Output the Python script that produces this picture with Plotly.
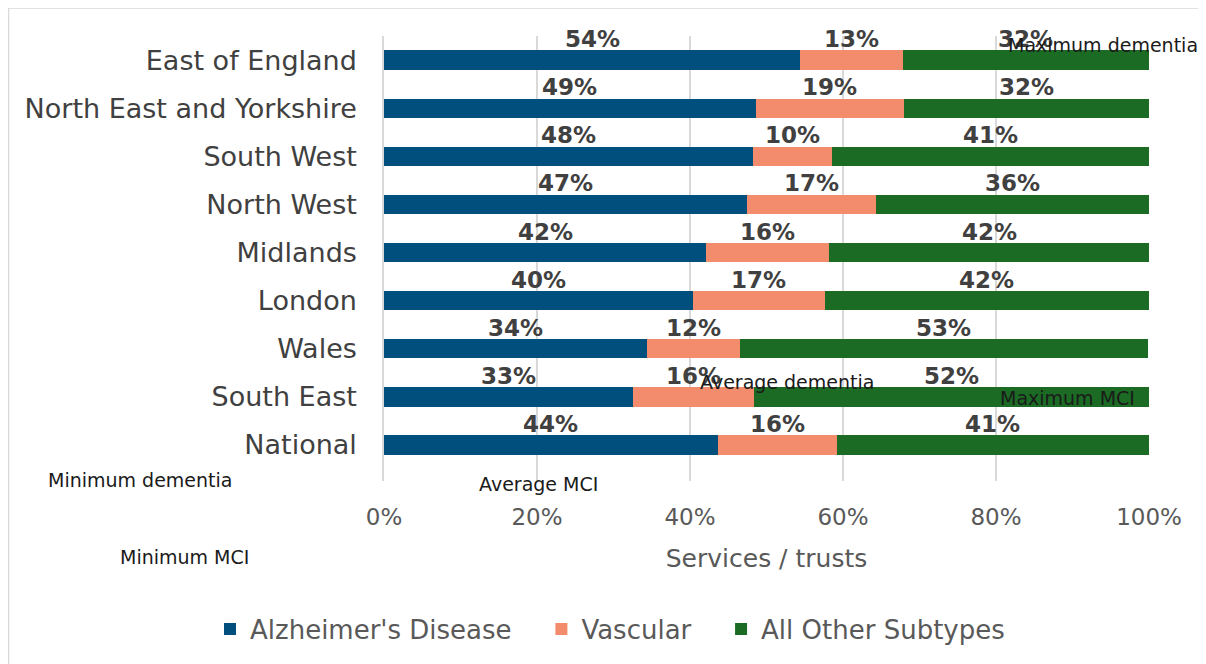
import plotly.graph_objects as go

regions = ["East of England", "North East and Yorkshire", "South West", "North West",
           "Midlands", "London", "Wales", "South East", "National"]
alzheimers = [54.4, 48.6, 48.2, 47.4, 42.1, 40.4, 34.4, 32.6, 43.6]
vascular = [13.4, 19.4, 10.4, 16.9, 16.1, 17.2, 12.1, 15.7, 15.6]
other = [32.2, 32.0, 41.4, 35.7, 41.8, 42.4, 53.4, 51.7, 40.8]
series_names = ["Alzheimer's Disease", "Vascular", "All Other Subtypes"]
colors = ["#004f7c", "#f28c6c", "#1b6b24"]
x_ticks = [0, 0.2, 0.4, 0.6, 0.8, 1.0]

# free-floating label texts (name, page pixel x, page pixel y)
float_labels = [("Maximum dementia", 1103, 45), ("Average dementia", 787, 382),
                ("Maximum MCI", 1067, 398), ("Minimum dementia", 140, 480),
                ("Average MCI", 538, 484), ("Minimum MCI", 184, 557)]

FONT = "DejaVu Sans"
OFF = 8  # page body margin
W, H = 1206 - OFF, 664 - OFF
# plot area in page pixels
L, R, T, B = 384, 1149, 36, 481

def px2paper_x(px):
    return (px - L) / (R - L)

def px2paper_y(py):
    return (B - py) / (B - T)

fig = go.Figure()
data = [alzheimers, vascular, other]
PAD = "\u00a0\u00a0\u00a0"
for k, (name, vals, col) in enumerate(zip(series_names, data, colors)):
    fig.add_trace(go.Bar(
        y=regions, x=[v / 100 for v in vals],
        name=name + (PAD if k < len(series_names) - 1 else ""), orientation="h",
        marker=dict(color=col, line=dict(width=0)),
    ))

annotations = []
for i, reg in enumerate(regions):
    start = 0
    for vals in data:
        v = vals[i] / 100
        annotations.append(dict(
            x=start + v / 2, y=reg, xref="x", yref="y", text=f"{vals[i]:.0f}%",
            showarrow=False, yshift=21,
            font=dict(family=FONT, size=23, color="#404040", weight="bold"),
        ))
        start += v

for txt, px, py in float_labels:
    annotations.append(dict(
        x=px2paper_x(px), y=px2paper_y(py), xref="paper", yref="paper",
        text=txt, showarrow=False, xanchor="center", yanchor="middle",
        font=dict(family=FONT, size=19, color="#1a1a1a"),
    ))

fig.update_layout(
    width=W, height=H,
    margin=dict(l=L - OFF, r=W - (R - OFF), t=T - OFF, b=H - (B - OFF), autoexpand=False),
    barmode="stack", bargap=0.6,
    plot_bgcolor="white", paper_bgcolor="white",
    font=dict(family=FONT, color="#595959"),
    annotations=annotations,
    showlegend=True,
    legend=dict(orientation="h", x=px2paper_x(210), xanchor="left",
                y=px2paper_y(629), yanchor="middle",
                font=dict(family=FONT, size=26, color="#595959"),
                traceorder="normal"),
    xaxis=dict(range=[0, 1], tickvals=x_ticks, tickformat=".0%",
               showgrid=True, gridcolor="#d9d9d9", gridwidth=1.5,
               zeroline=False, showline=False,
               tickfont=dict(family=FONT, size=23, color="#595959"),
               ticklabelstandoff=20,
               title=dict(text="Services / trusts", standoff=20,
                          font=dict(family=FONT, size=25, color="#595959"))),
    yaxis=dict(autorange="reversed", showline=True, linecolor="#d9d9d9", linewidth=1.5,
               tickfont=dict(family=FONT, size=27, color="#404040"),
               ticklabelstandoff=20, showgrid=False),
    shapes=[dict(type="rect", xref="paper", yref="paper",
                 x0=px2paper_x(8.5), x1=px2paper_x(1230),
                 y0=px2paper_y(700), y1=px2paper_y(8),
                 line=dict(color="#d9d9d9", width=1.5), fillcolor="rgba(0,0,0,0)",
                 layer="below")],
)

fig.write_html("out.html")
